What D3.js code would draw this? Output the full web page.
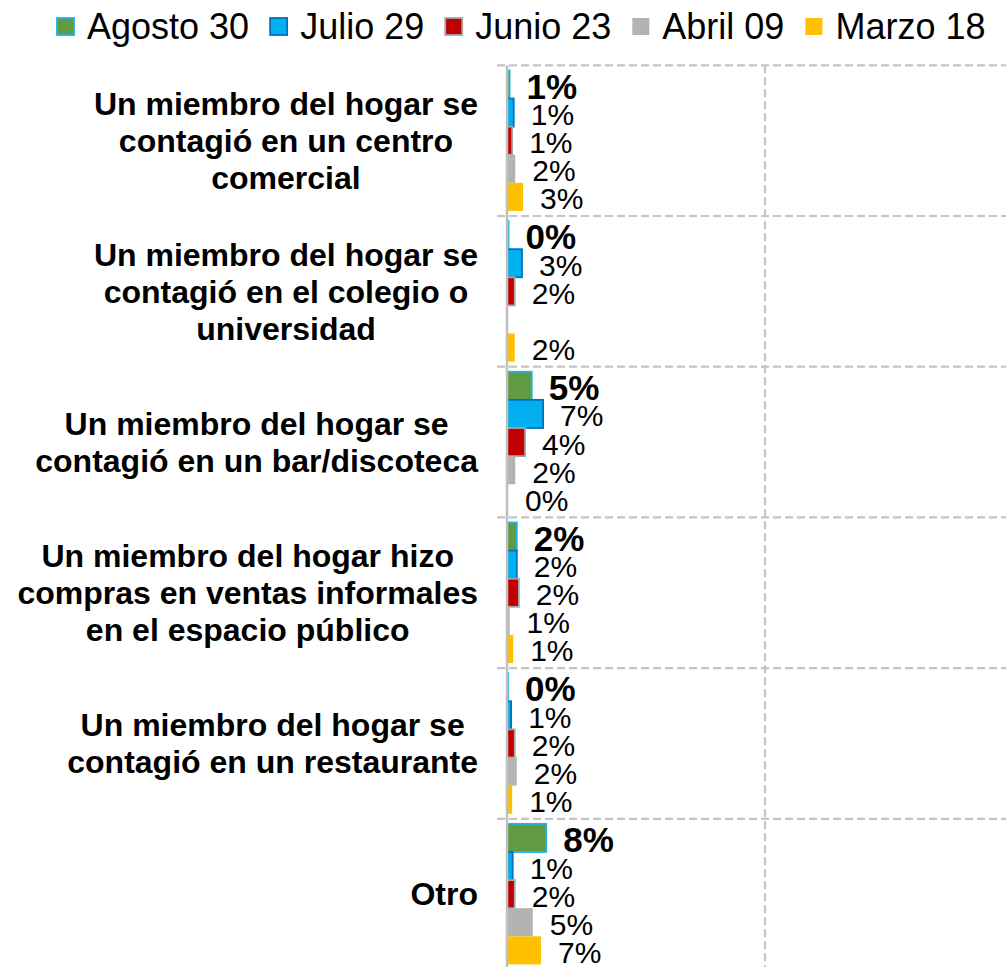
<!DOCTYPE html>
<html>
<head>
<meta charset="utf-8">
<script src="https://cdn.jsdelivr.net/npm/d3@7"></script>
<style>
    html, body { margin: 0; padding: 0; background: #ffffff; }
    #chart { width: 1006px; height: 967px; }
</style>
</head>
<body>
<div id="chart"></div>
<script>
// categorías (líneas de cada etiqueta)
const categories = [
    ["Un miembro del hogar se", "contagió en un centro", "comercial"],
    ["Un miembro del hogar se", "contagió en el colegio o", "universidad"],
    ["Un miembro del hogar se", "contagió en un bar/discoteca"],
    ["Un miembro del hogar hizo", "compras en ventas informales", "en el espacio público"],
    ["Un miembro del hogar se", "contagió en un restaurante"],
    ["Otro"]
];
const seriesNames = ["Agosto 30", "Julio 29", "Junio 23", "Abril 09", "Marzo 18"];
// valores en %
const agosto = [0.5, 0.3, 4.8, 1.9, 0.2, 7.6];
const julio  = [1.3, 2.9, 7.0, 1.9, 0.8, 1.1];
const junio  = [1.0, 1.5, 3.5, 2.3, 1.5, 1.5];
const abril  = [1.6, null, 1.6, 0.5, 1.9, 5.0];
const marzo  = [3.1, 1.5, 0.2, 1.2, 1.0, 6.6];
const xTicks = [0, 50, 100];

const seriesValues = [agosto, julio, junio, abril, marzo];
const fills   = ["#619B41", "#00B0F0", "#C00000", "#B3B3B3", "#FFC000"];
const strokes = ["#1FB2EC", "#0070C0", "#A6A6A6", "none", "none"];

const width = 1006, height = 967;
const FONT = "'Liberation Sans', Arial, Helvetica, sans-serif";

const svg = d3.create("svg")
    .attr("width", width)
    .attr("height", height)
    .attr("viewBox", [0, 0, width, height])
    .style("font-family", FONT);

const plotTop = 65.3, step = 150.7;
const x = d3.scaleLinear().domain([0, 50]).range([507, 765]);
const y = d3.scaleBand()
    .domain(d3.range(categories.length))
    .range([plotTop, plotTop + step * categories.length])
    .padding(0);
const ySub = d3.scaleBand()
    .domain(d3.range(seriesNames.length))
    .range([0, y.bandwidth()])
    .paddingInner(0)
    .paddingOuter(0.18);

// rejilla
const grid = svg.append("g")
    .attr("stroke", "#C4C4C4")
    .attr("stroke-width", 2.2)
    .attr("stroke-dasharray", "8,4");

grid.selectAll("line.h")
    .data(d3.range(categories.length + 1))
    .join("line")
    .attr("x1", 497)
    .attr("x2", width)
    .attr("y1", i => plotTop + step * i)
    .attr("y2", i => plotTop + step * i);

grid.selectAll("line.v")
    .data(xTicks.filter(t => t > 0))
    .join("line")
    .attr("x1", d => x(d))
    .attr("x2", d => x(d))
    .attr("y1", plotTop)
    .attr("y2", height + 5);

// barras
seriesValues.forEach((vals, s) => {
    svg.append("g")
        .selectAll("rect")
        .data(vals.map((v, i) => ({ v, i })).filter(d => d.v !== null))
        .join("rect")
        .attr("x", x(0))
        .attr("y", d => y(d.i) + ySub(s))
        .attr("width", d => x(d.v) - x(0))
        .attr("height", ySub.bandwidth())
        .attr("fill", fills[s])
        .attr("stroke", strokes[s])
        .attr("stroke-width", 1.8);
});

// eje vertical
svg.append("line")
    .attr("x1", x(0)).attr("x2", x(0))
    .attr("y1", plotTop).attr("y2", height + 5)
    .attr("stroke", "#BFBFBF")
    .attr("stroke-width", 2.5);

// etiquetas de datos
seriesValues.forEach((vals, s) => {
    const bold = s === 0;
    svg.append("g")
        .selectAll("text")
        .data(vals.map((v, i) => ({ v, i })).filter(d => d.v !== null))
        .join("text")
        .attr("x", d => x(d.v) + 17)
        .attr("y", d => y(d.i) + ySub(s) + ySub.bandwidth() / 2 + 2)
        .attr("dy", "0.35em")
        .style("font-size", bold ? "35px" : "30px")
        .style("font-weight", bold ? "bold" : "normal")
        .style("fill", "#000")
        .text(d => Math.round(d.v) + "%");
});

// etiquetas de categorías
const catFont = 32, lineH = 37, labelRight = 478;
categories.forEach((lines, i) => {
    const g = svg.append("g");
    const texts = g.selectAll("text")
        .data(lines)
        .join("text")
        .attr("y", (d, j) => y(i) + y.bandwidth() / 2 + (j - (lines.length - 1) / 2) * lineH + catFont * 0.35)
        .attr("text-anchor", "middle")
        .style("font-size", catFont + "px")
        .style("font-weight", "bold")
        .style("fill", "#000")
        .text(d => d);
    document.body.appendChild(svg.node());
    const maxW = d3.max(texts.nodes(), n => n.getComputedTextLength());
    texts.attr("x", labelRight - maxW / 2);
});

// leyenda
const legend = svg.append("g").attr("transform", "translate(0,0)");
let lx = 57;
seriesNames.forEach((name, s) => {
    legend.append("rect")
        .attr("x", lx)
        .attr("y", 18)
        .attr("width", 17)
        .attr("height", 17)
        .attr("fill", fills[s])
        .attr("stroke", strokes[s])
        .attr("stroke-width", 1.8);
    const t = legend.append("text")
        .attr("x", lx + 30)
        .attr("y", 39)
        .style("font-size", "36px")
        .style("fill", "#000")
        .text(name);
    lx += 30 + t.node().getComputedTextLength() + 21;
});

document.getElementById("chart").appendChild(svg.node());
</script>
</body>
</html>
